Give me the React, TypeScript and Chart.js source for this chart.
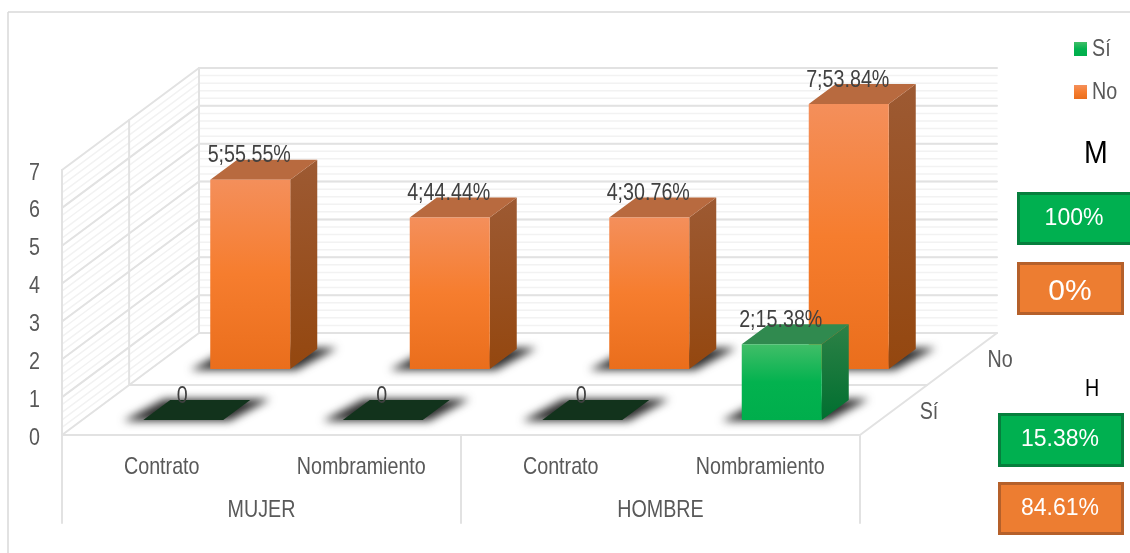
import React, { useEffect, useRef } from "react";
import { Chart, registerables } from "chart.js";

Chart.register(...registerables);

const categoryLabels = ["Contrato", "Nombramiento", "Contrato", "Nombramiento"];
const groupLabels = ["MUJER", "HOMBRE"];
const siValues = [0, 0, 0, 2];
const noValues = [5, 4, 4, 7];
const siShares = ["", "", "", "15.38%"];
const noShares = ["55.55%", "44.44%", "30.76%", "53.84%"];
const yTicks = [0, 1, 2, 3, 4, 5, 6, 7];
const mujerSummary = ["100%", "0%"];
const hombreSummary = ["15.38%", "84.61%"];

const SANS = '"Liberation Sans", Arial, sans-serif';
const TEXT = "#595959";
const LABEL = "#404040";
const MAJOR = "#e2e2e2";
const MINOR = "#f2f2f2";
// Chart text is set tall and condensed.
const CONDENSE = 0.82;
const CHART_FONT = `24px ${SANS}`;

// Oblique projection of the floor: full depth shifts right and up by these amounts.
const WALL_DX = 137;
const WALL_DY = 102;
// Each series sits on its own row of the floor.
const ROW_SHIFT = [
  { dx: 21.5, dy: 15 },
  { dx: 88.5, dy: 66 },
];
const BAR_DX = 27;
const BAR_DY = 20;

const PALETTE = [
  {
    front: ["#41be68", "#03b24f", "#00ae4c"],
    side: ["#2d8146", "#006f30"],
    top: "#308a4f",
    flat: "#12331c",
  },
  {
    front: ["#f48f5b", "#f67d2e", "#ea6e1c"],
    side: ["#9d5a33", "#94470f"],
    top: "#b86a3f",
    flat: "#12331c",
  },
];

function poly(ctx: CanvasRenderingContext2D, pts: number[][], fill: string | CanvasGradient) {
  ctx.beginPath();
  pts.forEach(([x, y], i) => (i ? ctx.lineTo(x, y) : ctx.moveTo(x, y)));
  ctx.closePath();
  ctx.fillStyle = fill;
  ctx.fill();
}

function line(ctx: CanvasRenderingContext2D, x0: number, y0: number, x1: number, y1: number) {
  ctx.beginPath();
  ctx.moveTo(x0, y0);
  ctx.lineTo(x1, y1);
  ctx.stroke();
}

function label(
  ctx: CanvasRenderingContext2D,
  text: string,
  x: number,
  y: number,
  font: string,
  color: string,
  align: CanvasTextAlign = "center",
  xScale = 1,
) {
  ctx.save();
  ctx.translate(x, y);
  ctx.scale(xScale, 1);
  ctx.font = font;
  ctx.fillStyle = color;
  ctx.textAlign = align;
  ctx.textBaseline = "middle";
  ctx.fillText(text, 0, 0);
  ctx.restore();
}

// Walls and floor of the box, with gridlines taken from the value scale.
const wallsPlugin = {
  id: "walls",
  beforeDatasetsDraw(chart: any) {
    const { ctx, chartArea: a, scales } = chart;
    const y = scales.y;
    ctx.save();
    ctx.lineCap = "round";

    ctx.strokeStyle = MINOR;
    ctx.lineWidth = 1.5;
    for (let v = 0; v < 7; v += 0.2) {
      const py = y.getPixelForValue(v);
      line(ctx, a.left, py, a.left + WALL_DX, py - WALL_DY);
      line(ctx, a.left + WALL_DX, py - WALL_DY, a.right + WALL_DX, py - WALL_DY);
    }

    ctx.strokeStyle = MAJOR;
    ctx.lineWidth = 2;
    for (const v of yTicks) {
      const py = y.getPixelForValue(v);
      line(ctx, a.left, py, a.left + WALL_DX, py - WALL_DY);
      line(ctx, a.left + WALL_DX, py - WALL_DY, a.right + WALL_DX, py - WALL_DY);
    }
    // Uprights of the side wall.
    [0, 0.49, 1].forEach((d) => {
      const ox = WALL_DX * d;
      const oy = WALL_DY * d;
      line(ctx, a.left + ox, a.top - oy, a.left + ox, a.bottom - oy);
    });

    // Floor edges and the divider between the two rows.
    line(ctx, a.left, a.bottom, a.right, a.bottom);
    line(ctx, a.right, a.bottom, a.right + WALL_DX, a.bottom - WALL_DY);
    line(ctx, a.left + WALL_DX * 0.49, a.bottom - WALL_DY * 0.49, a.right + WALL_DX * 0.49, a.bottom - WALL_DY * 0.49);

    // Separators under the axis, one per group boundary.
    const group = scales.group;
    const low = group.top + 28;
    [group.left, (group.left + group.right) / 2, group.right].forEach((px) => line(ctx, px, a.bottom, px, low));
    ctx.restore();
  },
};

// Each bar element supplies its front face; the plugin extrudes it backwards.
const prismPlugin = {
  id: "prism",
  beforeDatasetDraw(chart: any, args: any) {
    const { ctx } = chart;
    const colours = PALETTE[args.index];
    const shift = ROW_SHIFT[args.index];
    args.meta.data.forEach((el: any) => {
      const x0 = el.x - el.width / 2 + shift.dx;
      const x1 = el.x + el.width / 2 + shift.dx;
      const yt = el.y - shift.dy;
      const yb = el.base - shift.dy;

      ctx.save();
      ctx.filter = "blur(4px)";
      poly(
        ctx,
        [
          [x0 - 20, yb + 1],
          [x1 + 6, yb + 1],
          [x1 + BAR_DX + 20, yb - BAR_DY - 1],
          [x0 + BAR_DX - 6, yb - BAR_DY - 1],
        ],
        "#2e2e2e",
      );
      ctx.restore();

      if (yb - yt < 0.5) {
        poly(
          ctx,
          [
            [x0, yb],
            [x1, yb],
            [x1 + BAR_DX, yb - BAR_DY],
            [x0 + BAR_DX, yb - BAR_DY],
          ],
          colours.flat,
        );
        return;
      }

      const sideGrad = ctx.createLinearGradient(0, yt - BAR_DY, 0, yb);
      sideGrad.addColorStop(0, colours.side[0]);
      sideGrad.addColorStop(1, colours.side[1]);
      poly(
        ctx,
        [
          [x1, yt],
          [x1 + BAR_DX, yt - BAR_DY],
          [x1 + BAR_DX, yb - BAR_DY],
          [x1, yb],
        ],
        sideGrad,
      );
      poly(
        ctx,
        [
          [x0, yt],
          [x1, yt],
          [x1 + BAR_DX, yt - BAR_DY],
          [x0 + BAR_DX, yt - BAR_DY],
        ],
        colours.top,
      );
      const frontGrad = ctx.createLinearGradient(0, yt, 0, yb);
      frontGrad.addColorStop(0, colours.front[0]);
      frontGrad.addColorStop(0.5, colours.front[1]);
      frontGrad.addColorStop(1, colours.front[2]);
      poly(
        ctx,
        [
          [x0, yt],
          [x1, yt],
          [x1, yb],
          [x0, yb],
        ],
        frontGrad,
      );
    });
    return false;
  },
};

function summaryBox(
  ctx: CanvasRenderingContext2D,
  x: number,
  y: number,
  w: number,
  h: number,
  fill: string,
  edge: string,
  text: string,
  textX: number,
  size: number,
  textDrop = 1,
) {
  ctx.fillStyle = fill;
  ctx.strokeStyle = edge;
  ctx.lineWidth = 3;
  ctx.fillRect(x, y, w, h);
  ctx.strokeRect(x + 1.5, y + 1.5, w - 3, h - 3);
  label(ctx, text, textX, y + h / 2 + textDrop, `${size}px ${SANS}`, "#ffffff");
}

// Axis text, data labels, legend, row names, frame and the two summary panels.
const annotationPlugin = {
  id: "annotations",
  afterDatasetsDraw(chart: any) {
    const { ctx, data, scales } = chart;
    ctx.save();

    const condensed = (text: string, x: number, y: number, colour: string, align: CanvasTextAlign = "center") =>
      label(ctx, text, x, y, CHART_FONT, colour, align, CONDENSE);

    scales.y.ticks.forEach((t: any) => condensed(String(t.value), 40, scales.y.getPixelForValue(t.value) + 3, TEXT, "right"));
    scales.x.ticks.forEach((t: any, i: number) => condensed(t.label, scales.x.getPixelForTick(i), scales.x.top + 32, TEXT));
    scales.group.ticks.forEach((t: any, i: number) =>
      condensed(t.label, scales.group.getPixelForTick(i), scales.group.top + 15, TEXT),
    );

    const shares = [siShares, noShares];
    [1, 0].forEach((di) => {
      const shift = ROW_SHIFT[di];
      chart.getDatasetMeta(di).data.forEach((el: any, i: number) => {
        const v = data.datasets[di].data[i];
        const text = shares[di][i] ? `${v};${shares[di][i]}` : `${v}`;
        condensed(text, el.x + shift.dx - 1, el.y - shift.dy - 24, LABEL);
      });
    });

    condensed(data.datasets[1].label, 1000, 360, TEXT);
    condensed(data.datasets[0].label, 929, 412, TEXT);

    const swatches = [
      { y: 42, ds: 0 },
      { y: 85, ds: 1 },
    ];
    swatches.forEach(({ y, ds }) => {
      const g = ctx.createLinearGradient(0, y, 0, y + 14);
      g.addColorStop(0, PALETTE[ds].front[0]);
      g.addColorStop(0.5, PALETTE[ds].front[1]);
      g.addColorStop(1, PALETTE[ds].front[2]);
      ctx.fillStyle = g;
      ctx.fillRect(1074, y, 13, 14);
      condensed(data.datasets[ds].label, 1092, y + 7, TEXT, "left");
    });

    ctx.strokeStyle = "#d9d9d9";
    ctx.lineWidth = 1.5;
    line(ctx, 8, 12, 1130, 12);
    line(ctx, 8, 12, 8, 553);

    label(ctx, "M", 1096, 154, `31px ${SANS}`, "#000000", "center", 0.92);
    summaryBox(ctx, 1017, 192, 116, 53, "#00b050", "#067f3d", mujerSummary[0], 1074, 23, 0);
    summaryBox(ctx, 1017, 262, 107, 53, "#ed7d31", "#b5602a", mujerSummary[1], 1070, 30, 3);

    condensed("H", 1092, 389, "#000000");
    summaryBox(ctx, 998, 413, 126, 54, "#00b050", "#067f3d", hombreSummary[0], 1060, 23, 0);
    summaryBox(ctx, 998, 482, 126, 53, "#ed7d31", "#b5602a", hombreSummary[1], 1060, 23, 0);
    ctx.restore();
  },
};

const hiddenTicks = { display: false, maxRotation: 0, autoSkip: false };

export default function App() {
  const canvasRef = useRef<HTMLCanvasElement | null>(null);

  useEffect(() => {
    const chart = new Chart(canvasRef.current as HTMLCanvasElement, {
      type: "bar",
      data: {
        labels: categoryLabels,
        datasets: [
          { label: "Sí", data: siValues, backgroundColor: "#00b050", grouped: false, barThickness: 80 },
          { label: "No", data: noValues, backgroundColor: "#ed7d31", grouped: false, barThickness: 80 },
        ],
      },
      options: {
        responsive: false,
        animation: false,
        events: [],
        layout: { padding: { top: 170, right: 270, left: 0, bottom: 0 } },
        plugins: { legend: { display: false }, tooltip: { enabled: false } },
        scales: {
          x: {
            grid: { display: false },
            border: { display: false },
            ticks: hiddenTicks,
            afterFit: (s: any) => {
              s.height = 60;
            },
          },
          group: {
            type: "category",
            axis: "x",
            position: "bottom",
            weight: 1,
            labels: groupLabels,
            grid: { display: false },
            border: { display: false },
            ticks: hiddenTicks,
            afterFit: (s: any) => {
              s.height = 58;
            },
          },
          y: {
            min: 0,
            max: 7,
            grid: { display: false },
            border: { display: false },
            ticks: { display: false, stepSize: 1 },
            afterFit: (s: any) => {
              s.width = 62;
            },
          },
        },
      } as any,
      plugins: [wallsPlugin, prismPlugin, annotationPlugin] as any,
    });
    return () => chart.destroy();
  }, []);

  return (
    <canvas
      ref={canvasRef}
      width={1130}
      height={553}
      style={{ position: "fixed", left: 0, top: 0, display: "block", background: "#ffffff" }}
    />
  );
}
